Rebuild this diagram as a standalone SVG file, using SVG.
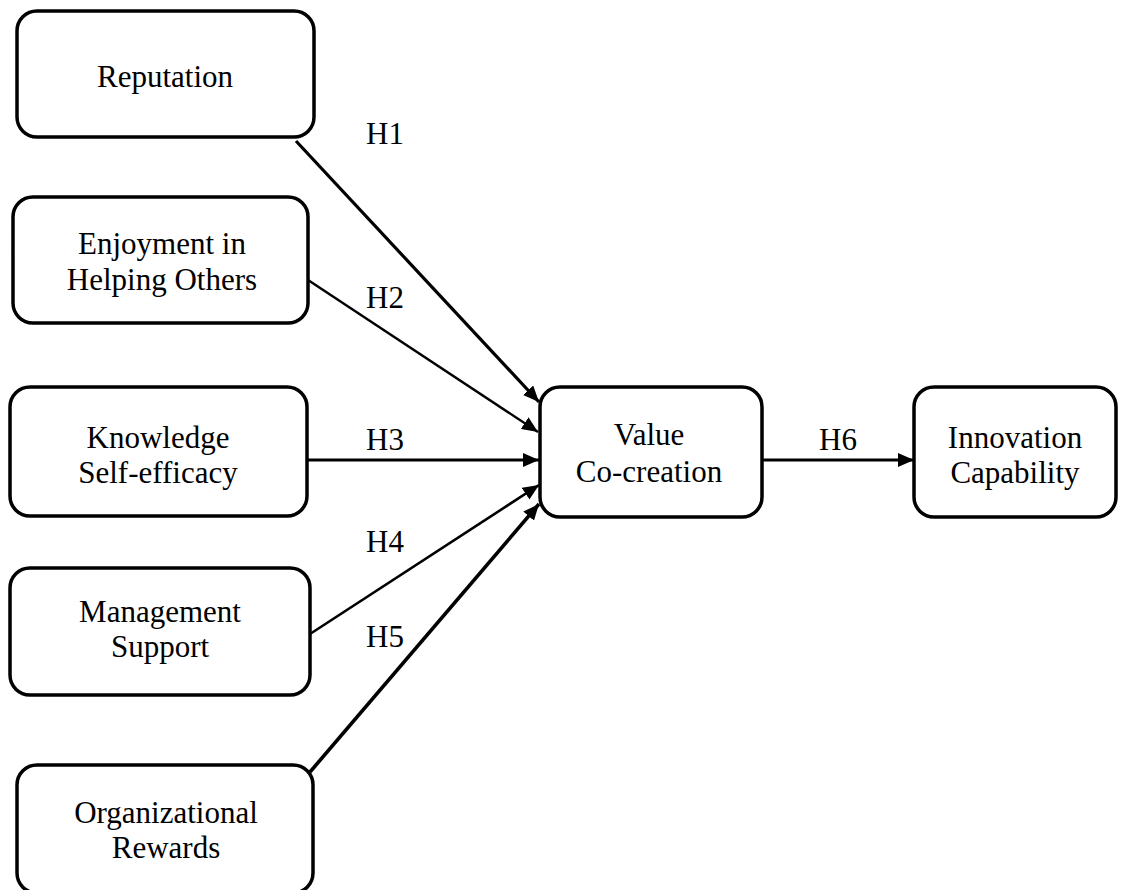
<svg xmlns="http://www.w3.org/2000/svg" width="1130" height="890" viewBox="0 0 1130 890">
<style>
.box{fill:#fff;stroke:#000;stroke-width:3.5}
.t{font-family:"Liberation Serif","Times New Roman",serif;font-size:31px;fill:#000;text-anchor:middle}
.c{stroke:#000;fill:none}
</style>
<defs>
<marker id="ah" viewBox="0 0 16 14" refX="16" refY="7" markerUnits="userSpaceOnUse" markerWidth="16" markerHeight="14" orient="auto">
<path d="M0,0 L16,7 L0,14 Z" fill="#000"/>
</marker>
</defs>
<rect width="1130" height="890" fill="#fff"/>
<g id="connectors">
<line class="c" x1="296" y1="141" x2="539" y2="402" stroke-width="3.2" marker-end="url(#ah)"/>
<line class="c" x1="308" y1="280" x2="538" y2="432" stroke-width="2.4" marker-end="url(#ah)"/>
<line class="c" x1="307" y1="460" x2="539" y2="460" stroke-width="2.8" marker-end="url(#ah)"/>
<line class="c" x1="310" y1="634" x2="539" y2="485" stroke-width="2.6" marker-end="url(#ah)"/>
<line class="c" x1="310" y1="772" x2="539" y2="504" stroke-width="3.6" marker-end="url(#ah)"/>
<line class="c" x1="762" y1="460" x2="914" y2="460" stroke-width="2.8" marker-end="url(#ah)"/>
<text class="t" x="385" y="144">H1</text>
<text class="t" x="385" y="308">H2</text>
<text class="t" x="385" y="450">H3</text>
<text class="t" x="385" y="552">H4</text>
<text class="t" x="385" y="647">H5</text>
<text class="t" x="838" y="450">H6</text>
</g>
<g id="reputation">
<rect class="box" x="17" y="11" width="297" height="126" rx="20"/>
<text class="t" x="165" y="87">Reputation</text>
</g>
<g id="enjoyment">
<rect class="box" x="13" y="197" width="295" height="126" rx="20"/>
<text class="t" x="162" y="254">Enjoyment in</text>
<text class="t" x="162" y="290">Helping Others</text>
</g>
<g id="knowledge">
<rect class="box" x="10" y="387" width="297" height="129" rx="20"/>
<text class="t" x="158" y="448">Knowledge</text>
<text class="t" x="158" y="483">Self-efficacy</text>
</g>
<g id="management">
<rect class="box" x="10" y="568" width="300" height="127" rx="20"/>
<text class="t" x="160" y="622">Management</text>
<text class="t" x="160" y="657">Support</text>
</g>
<g id="rewards">
<rect class="box" x="17" y="765" width="296" height="128" rx="20"/>
<text class="t" x="166" y="823">Organizational</text>
<text class="t" x="166" y="858">Rewards</text>
</g>
<g id="value">
<rect class="box" x="540" y="387" width="222" height="130" rx="20"/>
<text class="t" x="649" y="445">Value</text>
<text class="t" x="649" y="482">Co-creation</text>
</g>
<g id="innovation">
<rect class="box" x="914" y="387" width="202" height="130" rx="20"/>
<text class="t" x="1015" y="448">Innovation</text>
<text class="t" x="1015" y="483">Capability</text>
</g>
</svg>
